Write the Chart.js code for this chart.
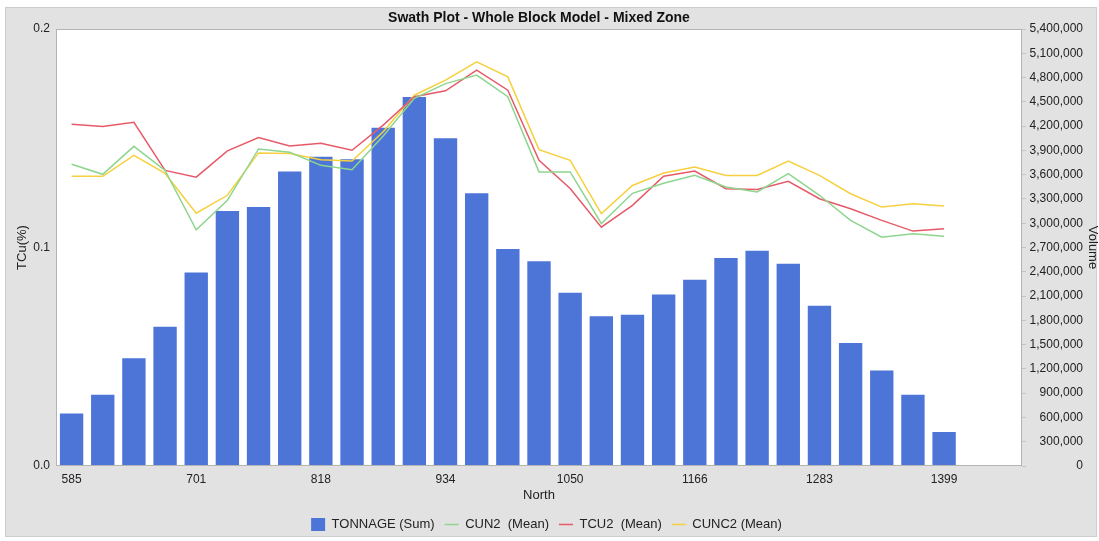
<!DOCTYPE html>
<html>
<head>
<meta charset="utf-8">
<script src="https://cdn.jsdelivr.net/npm/chart.js@4.4.1/dist/chart.umd.min.js"></script>
<style>
  html, body { margin: 0; padding: 0; background: #fff; }
  #wrap { width: 1099px; height: 541px; }
</style>
</head>
<body>
<div id="wrap"><canvas id="swath" width="1099" height="541"></canvas></div>
<script>
// North bins
let northLabels = ["585", "614", "643", "672", "701", "730", "759", "788", "818", "847",
    "876", "905", "934", "963", "992", "1021", "1050", "1079", "1108", "1137",
    "1166", "1195", "1225", "1254", "1283", "1312", "1341", "1370", "1399", "1428", "1457"];

// TONNAGE (Sum) - right axis
let tonnage = [650000, 880000, 1330000, 1720000, 2390000, 3150000, 3200000, 3640000, 3820000, 3790000,
    4180000, 4560000, 4050000, 3370000, 2680000, 2530000, 2140000, 1850000, 1870000, 2120000,
    2300000, 2570000, 2660000, 2500000, 1980000, 1520000, 1180000, 880000, 420000, null, null];

// grade means - left axis
let cun2 = [0.1381, 0.1335, 0.1463, 0.1353, 0.1081, 0.1216, 0.1451, 0.1436, 0.1376, 0.1356,
    0.151, 0.1683, 0.175, 0.1789, 0.169, 0.1346, 0.1346, 0.111, 0.1248, 0.1294,
    0.133, 0.1277, 0.1254, 0.1338, 0.1239, 0.1124, 0.1047, 0.1063, 0.1052, null, null];

let tcu2 = [0.1564, 0.1554, 0.1573, 0.1353, 0.1322, 0.1442, 0.1503, 0.1465, 0.1477, 0.1445,
    0.156, 0.169, 0.1717, 0.1812, 0.172, 0.1399, 0.127, 0.1093, 0.1193, 0.1326,
    0.135, 0.1269, 0.1265, 0.1303, 0.1223, 0.1177, 0.1124, 0.1075, 0.1086, null, null];

let cunc2 = [0.1326, 0.1326, 0.1422, 0.1339, 0.1157, 0.1239, 0.1433, 0.143, 0.1402, 0.1396,
    0.153, 0.1697, 0.1766, 0.185, 0.1781, 0.1448, 0.1399, 0.1155, 0.1284, 0.1341,
    0.1368, 0.133, 0.133, 0.1396, 0.133, 0.1246, 0.1185, 0.12, 0.119, null, null];

let leftTicks = [0, 0.1, 0.2];

const FONT = "'Liberation Sans', Arial, sans-serif";

// gray frame, title bar and white plot area
const framePlugin = {
    id: "frame",
    beforeDraw(chart) {
        let ctx = chart.ctx;
        let a = chart.chartArea;
        ctx.save();
        ctx.fillStyle = "#fff";
        ctx.fillRect(0, 0, chart.width, chart.height);
        ctx.fillStyle = "#e2e2e2";
        ctx.fillRect(5, 7, 1092, 530);
        ctx.strokeStyle = "#cdcdcd";
        ctx.lineWidth = 1;
        ctx.strokeRect(5.5, 7.5, 1091, 529);
        ctx.fillStyle = "#fff";
        ctx.fillRect(a.left, a.top, a.right - a.left, a.bottom - a.top);
        ctx.restore();
    },
    afterDraw(chart) {
        let ctx = chart.ctx;
        let a = chart.chartArea;
        ctx.save();
        ctx.strokeStyle = "#b4b4b4";
        ctx.lineWidth = 1;
        ctx.strokeRect(a.left + 0.5, a.top + 0.5, a.right - a.left - 1, a.bottom - a.top - 1);
        ctx.fillStyle = "#111";
        ctx.font = "bold 14px " + FONT;
        ctx.textAlign = "center";
        ctx.textBaseline = "middle";
        ctx.fillText("Swath Plot - Whole Block Model - Mixed Zone", (a.left + a.right) / 2, 18);
        ctx.restore();
    }
};

new Chart(document.getElementById("swath"), {
    type: "bar",
    data: {
        labels: northLabels,
        datasets: [
            {
                type: "bar",
                label: "TONNAGE (Sum)",
                data: tonnage,
                yAxisID: "y1",
                backgroundColor: "#4d75d8",
                borderWidth: 0,
                barPercentage: 0.75,
                categoryPercentage: 1.0,
                pointStyle: "rect",
                order: 1
            },
            {
                type: "line",
                label: "CUN2  (Mean)",
                data: cun2,
                yAxisID: "y",
                borderColor: "#8ed58e",
                backgroundColor: "#8ed58e",
                borderWidth: 1.5,
                pointRadius: 0,
                pointStyle: "line",
                tension: 0,
                order: 0
            },
            {
                type: "line",
                label: "TCU2  (Mean)",
                data: tcu2,
                yAxisID: "y",
                borderColor: "#e65a68",
                backgroundColor: "#e65a68",
                borderWidth: 1.5,
                pointRadius: 0,
                pointStyle: "line",
                tension: 0,
                order: 0
            },
            {
                type: "line",
                label: "CUNC2 (Mean)",
                data: cunc2,
                yAxisID: "y",
                borderColor: "#f6d03e",
                backgroundColor: "#f6d03e",
                borderWidth: 1.5,
                pointRadius: 0,
                pointStyle: "line",
                tension: 0,
                order: 0
            }
        ]
    },
    options: {
        responsive: false,
        animation: false,
        layout: { padding: { left: 10, right: 16, top: 29, bottom: 0 } },
        plugins: {
            title: { display: false },
            tooltip: { enabled: false },
            legend: {
                position: "bottom",
                labels: {
                    usePointStyle: true,
                    boxWidth: 14,
                    boxHeight: 14,
                    pointStyleWidth: 14,
                    padding: 10,
                    color: "#222",
                    font: { family: FONT, size: 13 },
                    sort: (a, b) => a.datasetIndex - b.datasetIndex
                }
            }
        },
        scales: {
            x: {
                offset: true,
                grid: { display: false, drawTicks: false },
                border: { display: false },
                ticks: {
                    autoSkip: false,
                    maxRotation: 0,
                    padding: 6,
                    color: "#222",
                    font: { family: FONT, size: 12 },
                    callback: function(v, i) {
                        return (i % 4 === 0 && i <= 28) ? northLabels[i] : "";
                    }
                },
                title: {
                    display: true,
                    text: "North",
                    color: "#222",
                    font: { family: FONT, size: 13 },
                    padding: { top: 0, bottom: 5 }
                },
                afterFit: function(s) { s.height = 42; }
            },
            y: {
                position: "left",
                min: 0,
                max: 0.2,
                afterBuildTicks: function(s) { s.ticks = leftTicks.map(v => ({ value: v })); },
                grid: { display: false, drawTicks: false },
                border: { display: false },
                ticks: {
                    padding: 6,
                    color: "#222",
                    font: { family: FONT, size: 12 },
                    callback: v => Number(v).toFixed(1)
                },
                title: {
                    display: true,
                    text: "TCu(%)",
                    color: "#222",
                    font: { family: FONT, size: 13 },
                    padding: { top: 5, bottom: 0 }
                },
                afterFit: function(s) { s.width = 46; }
            },
            y1: {
                position: "right",
                min: 0,
                max: 5400000,
                grid: { drawOnChartArea: false, drawTicks: true, tickLength: 4, color: "#c4c4c4" },
                border: { display: false },
                ticks: {
                    stepSize: 300000,
                    padding: 4,
                    crossAlign: "far",
                    color: "#222",
                    font: { family: FONT, size: 12 },
                    callback: v => Number(v).toLocaleString("en-US")
                },
                title: {
                    display: true,
                    text: "Volume",
                    color: "#222",
                    font: { family: FONT, size: 13 },
                    padding: { top: -17, bottom: 0 }
                },
                afterFit: function(s) { s.width = 61; }
            }
        }
    },
    plugins: [framePlugin]
});
</script>
</body>
</html>
